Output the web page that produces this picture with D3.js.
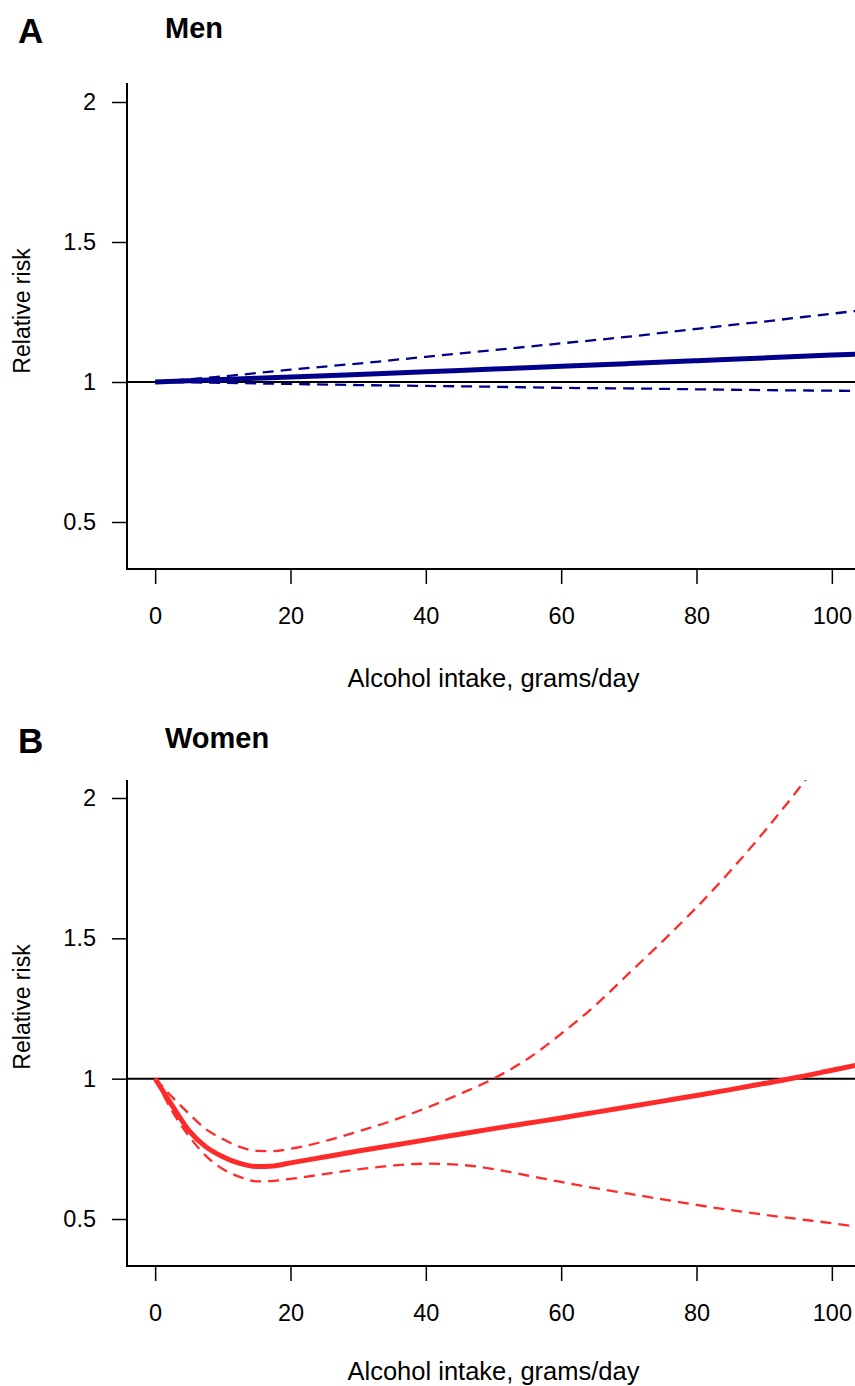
<!DOCTYPE html>
<html>
<head>
<meta charset="utf-8">
<script src="https://cdn.jsdelivr.net/npm/d3@7"></script>
<style>
	body { margin: 0; background: #fff; }
	svg { display: block; font-family: Arial, "Liberation Sans", sans-serif; }
</style>
</head>
<body>
<div id="chart"></div>
<script>
// alcohol intake (g/day) where the curves were read
var menDose = [0, 10, 20, 30, 40, 50, 60, 70, 80, 90, 100, 104];
var menRR = [1, 1.009, 1.018, 1.027, 1.037, 1.046, 1.056, 1.066, 1.076, 1.086, 1.096, 1.100];
var menUpper = [1, 1.020, 1.044, 1.066, 1.090, 1.114, 1.138, 1.162, 1.190, 1.216, 1.244, 1.255];
var menLower = [1, 0.997, 0.993, 0.989, 0.986, 0.983, 0.979, 0.977, 0.974, 0.971, 0.969, 0.968];

var womenDose = [0, 2.5, 5, 7.5, 10, 12.5, 15, 17.5, 20, 25, 30, 35, 40, 45, 50, 55, 60, 65, 70, 75, 80, 85, 90, 95, 100, 104];
var womenRR = [1, 0.905, 0.815, 0.757, 0.722, 0.698, 0.687, 0.689, 0.700, 0.721, 0.742, 0.762, 0.782, 0.802, 0.822, 0.841, 0.860, 0.880, 0.900, 0.920, 0.940, 0.961, 0.983, 1.005, 1.030, 1.050];
var womenUpper = [1, 0.935, 0.875, 0.820, 0.785, 0.757, 0.743, 0.742, 0.750, 0.777, 0.812, 0.850, 0.895, 0.945, 1.000, 1.070, 1.160, 1.260, 1.375, 1.490, 1.610, 1.740, 1.880, 2.030, 2.190, 2.320];
var womenLower = [1, 0.885, 0.795, 0.725, 0.678, 0.650, 0.634, 0.636, 0.643, 0.660, 0.677, 0.690, 0.697, 0.693, 0.678, 0.655, 0.632, 0.610, 0.590, 0.570, 0.550, 0.532, 0.515, 0.500, 0.485, 0.472];

var xTicks = [0, 20, 40, 60, 80, 100];
var yTicks = [0.5, 1, 1.5, 2];
var yTickLabels = ['0.5', '1', '1.5', '2'];

var W = 855, H = 1386;
var svg = d3.select('#chart').append('svg').attr('width', W).attr('height', H);

function zip(xs, ys) {
	return xs.map(function(d, i) { return {x: d, y: ys[i]}; });
}

function drawPanel(p) {
	var x = d3.scaleLinear().domain([-4.16, 104.16]).range([127, 860]);
	var y = d3.scaleLinear().domain([0.5, 2]).range([p.y05, p.y2]);
	var g = svg.append('g');

	// panel letter and title
	g.append('text').attr('x', 18).attr('y', p.letterY).attr('font-size', 35).attr('font-weight', 'bold').text(p.letter);
	g.append('text').attr('x', 165).attr('y', p.titleY).attr('font-size', 29).attr('font-weight', 'bold').text(p.title);

	var clipId = 'clip' + p.letter;
	svg.append('clipPath').attr('id', clipId).append('rect')
		.attr('x', 127).attr('y', p.top).attr('width', W - 127).attr('height', p.bottom - p.top);

	var plot = g.append('g').attr('clip-path', 'url(#' + clipId + ')');

	// reference line at RR = 1
	plot.append('line').attr('x1', 127).attr('x2', W).attr('y1', y(1)).attr('y2', y(1))
		.attr('stroke', '#000').attr('stroke-width', 2);

	var line = d3.line().x(function(d) { return x(d.x); }).y(function(d) { return y(d.y); }).curve(d3.curveMonotoneX);

	[p.upper, p.lower].forEach(function(vals) {
		plot.append('path').datum(zip(p.dose, vals)).attr('d', line)
			.attr('fill', 'none').attr('stroke', p.color).attr('stroke-width', 2.3).attr('stroke-dasharray', '11,7');
	});
	plot.append('path').datum(zip(p.dose, p.rr)).attr('d', line)
		.attr('fill', 'none').attr('stroke', p.color).attr('stroke-width', 5);

	// axes
	var yAxis = d3.axisLeft(y).tickValues(yTicks).tickSize(15).tickPadding(16)
		.tickFormat(function(d, i) { return yTickLabels[i]; });
	var ya = g.append('g').attr('transform', 'translate(127,0)').call(yAxis);
	ya.select('.domain').remove();
	ya.selectAll('text').attr('font-size', 23.5).attr('font-family', null).attr('fill', '#000');
	ya.selectAll('line').attr('stroke', '#000').attr('stroke-width', 1.5);

	var xAxis = d3.axisBottom(x).tickValues(xTicks).tickSize(15);
	var xa = g.append('g').attr('transform', 'translate(0,' + p.bottom + ')').call(xAxis);
	xa.select('.domain').remove();
	xa.selectAll('text').attr('font-size', 23.5).attr('font-family', null).attr('fill', '#000').attr('y', 55).attr('dy', null);
	xa.selectAll('line').attr('stroke', '#000').attr('stroke-width', 1.5);

	// L-shaped box
	g.append('path').attr('d', 'M127,' + p.top + 'V' + p.bottom + 'H' + W)
		.attr('fill', 'none').attr('stroke', '#000').attr('stroke-width', 2);

	g.append('text').attr('x', 493.5).attr('y', p.xlabY).attr('text-anchor', 'middle').attr('font-size', 25.5).text('Alcohol intake, grams/day');
	g.append('text').attr('transform', 'translate(30,' + p.ylabY + ') rotate(-90)').attr('text-anchor', 'middle').attr('font-size', 23).text('Relative risk');
}

drawPanel({letter: 'A', title: 'Men', letterY: 43, titleY: 38, top: 83, bottom: 569, y2: 102, y05: 522,
	xlabY: 687, ylabY: 311, color: '#00008b', dose: menDose, rr: menRR, upper: menUpper, lower: menLower});
drawPanel({letter: 'B', title: 'Women', letterY: 753, titleY: 748, top: 780, bottom: 1266, y2: 798, y05: 1219,
	xlabY: 1380, ylabY: 1007, color: '#ff2a2a', dose: womenDose, rr: womenRR, upper: womenUpper, lower: womenLower});
</script>
</body>
</html>
